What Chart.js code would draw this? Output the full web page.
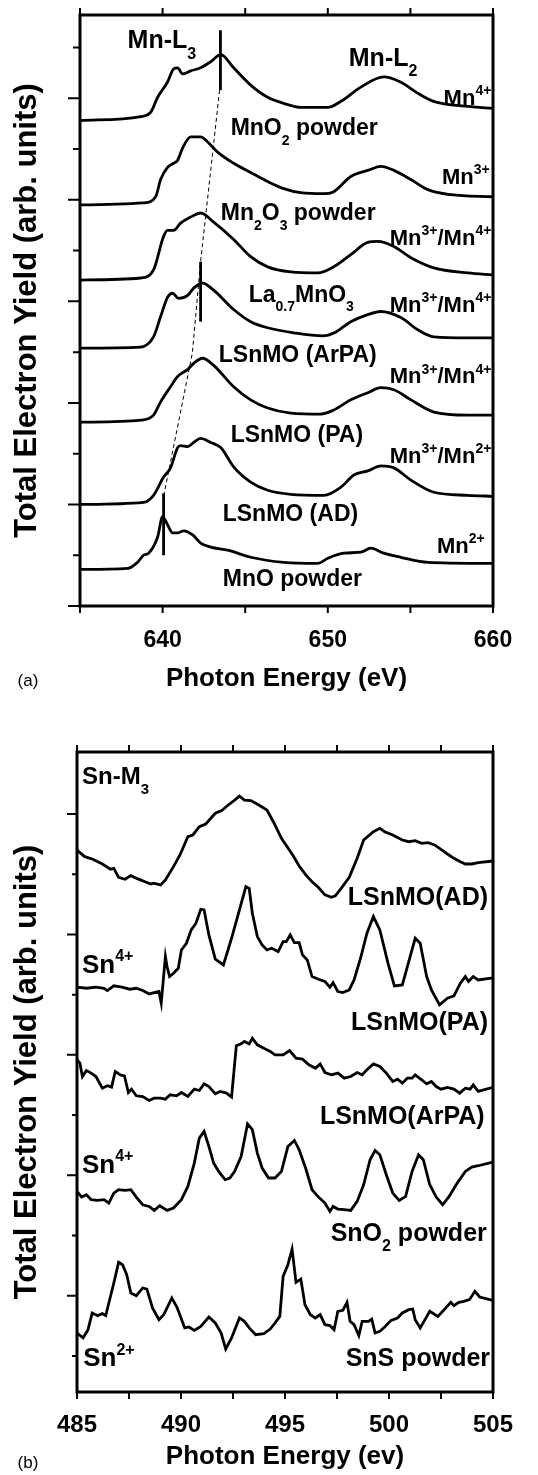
<!DOCTYPE html>
<html>
<head>
<meta charset="utf-8">
<script src="https://cdn.jsdelivr.net/npm/chart.js@4.4.1/dist/chart.umd.min.js"></script>
<style>
html, body { margin: 0; padding: 0; background: #fff; }
canvas { display: block; }
</style>
</head>
<body>
<canvas id="chartA" width="538" height="705"></canvas>
<canvas id="chartB" width="538" height="770"></canvas>
<script>
const FONT = "'Liberation Sans', Arial, sans-serif";

// ---- panel (a): Mn L-edge ----
const mno2X = [635, 638.67, 639.27, 639.70, 640.30, 640.67, 640.91, 641.21, 641.70, 642.30, 642.91, 643.52, 644.30, 645.33, 646.36, 647.33, 648.36, 650.0, 650.8, 652.0, 653.4, 654.4, 655.45, 656.4, 658.5, 660];
const mno2Y = [47.8, 48.2, 48.6, 50.1, 51.6, 52.9, 53.0, 52.4, 52.7, 53.0, 53.6, 54.3, 53.0, 51.3, 50.1, 49.5, 49.1, 49.1, 49.7, 51.1, 52.1, 51.6, 50.5, 49.7, 49.2, 49.0];

const mn2o3X = [635, 638.85, 639.58, 639.88, 640.30, 640.67, 640.91, 641.21, 641.70, 642.30, 642.73, 643.33, 644.30, 645.33, 646.36, 647.33, 648.36, 649.76, 650.36, 651.39, 652.0, 652.42, 653.21, 654.0, 655.03, 656.06, 657.45, 660];
const mn2o3Y = [39.5, 39.7, 40.3, 42.0, 43.2, 43.6, 43.9, 45.1, 46.2, 46.2, 45.7, 44.7, 43.6, 42.7, 41.8, 41.1, 40.7, 40.6, 40.8, 42.3, 42.7, 42.9, 43.3, 42.9, 42.0, 41.0, 40.5, 40.3];

const lamnoX = [635, 638.67, 639.45, 640.06, 640.30, 640.67, 641.09, 641.70, 642.30, 643.09, 644.30, 645.33, 646.36, 647.76, 649.39, 650.36, 651.39, 652.42, 653.03, 654.0, 655.03, 656.42, 658.48, 660];
const lamnoY = [32.1, 32.3, 33.1, 36.4, 37.0, 37.0, 37.7, 38.3, 38.7, 37.8, 36.1, 34.4, 33.4, 32.9, 32.8, 33.4, 34.6, 35.8, 35.9, 35.4, 34.3, 33.3, 32.8, 32.6];

const arpaX = [635, 638.67, 639.45, 639.88, 640.30, 640.61, 640.97, 641.52, 641.88, 642.42, 643.09, 644.30, 645.33, 646.36, 647.94, 649.7, 650.4, 651.39, 652.42, 653.21, 654.42, 655.45, 656.42, 658.48, 660];
const arpaY = [25.4, 25.5, 26.5, 28.5, 30.4, 30.8, 30.3, 30.6, 31.3, 31.8, 31.1, 29.2, 28.0, 27.4, 26.9, 26.6, 26.9, 28.0, 28.7, 29.0, 28.4, 27.2, 26.5, 26.4, 26.4];

const paX = [635, 638.67, 639.45, 639.88, 640.48, 640.91, 641.52, 641.88, 642.42, 643.09, 644.30, 645.33, 646.36, 647.76, 649.58, 650.36, 651.39, 652.42, 653.21, 654.0, 655.03, 656.42, 658.48, 660];
const paY = [18.1, 18.3, 18.8, 20.1, 21.6, 22.6, 23.3, 23.9, 24.4, 23.7, 21.6, 20.3, 19.5, 19.0, 18.9, 19.3, 20.3, 21.0, 21.5, 21.3, 20.3, 19.1, 18.8, 18.8];

const adX = [635, 638.85, 639.45, 640.06, 640.48, 640.91, 641.09, 641.52, 641.88, 642.30, 642.91, 643.52, 644.30, 645.33, 646.36, 647.76, 649.76, 650.79, 651.58, 652.42, 653.21, 654.0, 655.03, 656.42, 658.48, 660];
const adY = [10.0, 10.2, 10.9, 12.7, 13.6, 15.6, 15.8, 15.7, 16.1, 16.5, 16.1, 15.6, 13.7, 12.2, 11.4, 11.0, 10.9, 11.7, 12.9, 13.3, 13.8, 13.6, 12.4, 11.2, 10.9, 10.8];

const mnoX = [635, 637.88, 638.48, 638.85, 639.15, 639.70, 640.0, 640.30, 640.61, 640.91, 641.27, 641.82, 642.30, 642.91, 643.94, 645.33, 647.33, 649.39, 650.0, 650.97, 652.0, 652.61, 653.39, 654.42, 656.06, 660];
const mnoY = [3.6, 3.7, 4.3, 5.0, 5.2, 6.8, 8.8, 8.0, 7.2, 7.2, 7.4, 7.0, 6.2, 5.8, 5.5, 4.8, 4.3, 4.2, 4.7, 5.2, 5.3, 5.7, 5.2, 4.8, 4.3, 4.2];

// peak markers and the dashed guide
const barX = [643.5, 642.3, 640.06];
const barTop = [56.7, 33.9, 11.1];
const barBottom = [50.8, 28.0, 5.0];
const dashX = [643.45, 642.3, 641.8, 640.1];
const dashY = [50.8, 33.9, 24.9, 11.1];

const yTicksA = [0, 5, 10, 15, 20, 25, 30, 35, 40, 45, 50, 55];

// ---- panel (b): Sn M3-edge ----
const adBX = [485.0, 485.37, 485.76, 486.22, 486.61, 486.77, 487.00, 487.31, 487.59, 487.93, 488.27, 488.55, 488.67, 489.02, 489.25, 489.64, 489.95, 490.33, 490.57, 490.88, 491.19, 491.65, 491.96, 492.27, 492.58, 492.81, 493.05, 493.36, 493.74, 494.13, 494.44, 494.83, 495.37, 495.68, 496.00, 496.30, 496.61, 496.92, 497.23, 497.42, 497.70, 498.09, 498.47, 498.78, 499.25, 499.56, 499.79, 500.18, 500.64, 500.95, 501.26, 501.57, 501.88, 502.19, 502.50, 502.81, 503.12, 503.43, 503.67, 503.98, 504.29, 505.0];
const adBY = [37.0, 36.46, 36.24, 35.85, 35.41, 35.49, 34.74, 34.58, 34.88, 34.61, 34.38, 34.19, 34.25, 34.11, 34.52, 35.63, 36.60, 38.12, 38.26, 38.95, 39.17, 40.06, 40.28, 40.75, 41.16, 41.49, 41.16, 41.11, 40.75, 40.33, 39.36, 37.98, 36.60, 35.68, 34.94, 34.38, 33.89, 33.28, 33.08, 33.20, 33.83, 34.74, 36.32, 37.84, 38.53, 38.81, 38.53, 38.26, 37.84, 37.70, 37.79, 37.57, 37.62, 37.43, 37.07, 36.68, 36.32, 36.04, 35.85, 35.85, 35.96, 36.1];

const paBX = [485.0, 485.45, 485.91, 486.30, 486.46, 486.77, 487.16, 487.54, 487.85, 488.16, 488.47, 488.71, 488.94, 489.05, 489.25, 489.33, 489.45, 489.64, 489.87, 490.02, 490.26, 490.49, 490.72, 490.95, 491.11, 491.34, 491.65, 492.04, 492.43, 492.81, 493.12, 493.28, 493.43, 493.67, 493.90, 494.13, 494.36, 494.67, 494.91, 495.06, 495.25, 495.45, 495.68, 495.84, 496.07, 496.30, 496.61, 496.92, 497.16, 497.31, 497.54, 497.78, 498.09, 498.32, 498.63, 498.94, 499.25, 499.56, 499.95, 500.26, 500.64, 500.95, 501.26, 501.50, 501.81, 502.04, 502.43, 502.81, 503.12, 503.43, 503.67, 503.82, 504.05, 504.29, 505.0];
const paBY = [25.62, 25.53, 25.62, 25.53, 25.34, 25.73, 25.62, 25.45, 25.53, 25.34, 25.06, 25.17, 25.26, 24.29, 28.16, 27.33, 26.50, 26.78, 27.19, 28.71, 29.27, 30.37, 30.93, 32.09, 32.03, 29.96, 27.94, 27.47, 29.68, 32.03, 33.97, 33.83, 31.76, 29.82, 29.13, 28.71, 28.85, 28.58, 29.40, 29.40, 29.96, 29.32, 29.32, 28.30, 27.88, 26.50, 26.28, 26.09, 25.62, 26.00, 25.26, 25.17, 25.39, 26.22, 28.02, 30.10, 31.48, 30.37, 27.61, 25.73, 25.81, 27.75, 29.68, 29.27, 26.50, 25.39, 24.15, 24.70, 24.90, 25.95, 26.50, 26.09, 26.50, 26.22, 26.4];

const arpaBX = [485.0, 485.14, 485.26, 485.45, 485.68, 485.91, 486.22, 486.46, 486.66, 486.84, 487.08, 487.28, 487.47, 487.62, 487.85, 488.16, 488.47, 488.71, 489.02, 489.25, 489.48, 489.79, 490.02, 490.33, 490.64, 490.88, 491.11, 491.34, 491.65, 491.88, 492.19, 492.43, 492.66, 492.89, 493.05, 493.28, 493.43, 493.67, 493.98, 494.29, 494.52, 494.91, 495.22, 495.53, 495.84, 496.15, 496.46, 496.69, 496.92, 497.23, 497.54, 497.85, 498.16, 498.47, 498.71, 498.94, 499.25, 499.56, 499.87, 500.18, 500.41, 500.64, 500.88, 501.11, 501.26, 501.57, 501.81, 502.04, 502.27, 502.50, 502.81, 503.12, 503.40, 503.67, 503.90, 504.05, 504.29, 505.0];
const arpaBY = [19.59, 19.31, 18.20, 18.70, 18.48, 18.20, 17.23, 17.43, 17.32, 18.62, 18.34, 18.26, 16.87, 17.15, 16.60, 16.54, 16.21, 16.40, 16.40, 16.32, 16.68, 16.60, 16.87, 16.54, 17.15, 17.04, 17.59, 17.37, 16.76, 16.96, 16.82, 16.49, 20.75, 20.91, 21.11, 20.91, 21.38, 20.83, 20.55, 20.28, 20.00, 20.00, 20.36, 19.72, 19.64, 19.17, 18.89, 19.25, 18.53, 18.34, 18.48, 18.06, 18.20, 18.53, 18.34, 18.76, 19.25, 19.03, 18.48, 17.79, 17.98, 17.65, 18.06, 18.06, 18.34, 17.93, 17.59, 17.79, 17.37, 17.15, 17.29, 17.15, 16.82, 17.23, 17.15, 17.51, 16.96, 17.3];

const sno2BX = [485.0, 485.22, 485.45, 485.68, 485.99, 486.30, 486.53, 486.77, 487.00, 487.31, 487.59, 487.85, 488.16, 488.47, 488.71, 488.98, 489.33, 489.64, 490.02, 490.33, 490.64, 490.88, 491.11, 491.34, 491.57, 491.81, 492.12, 492.35, 492.58, 492.89, 493.20, 493.43, 493.67, 493.90, 494.21, 494.52, 494.83, 495.14, 495.45, 495.68, 495.99, 496.30, 496.61, 496.92, 497.16, 497.31, 497.54, 497.85, 498.16, 498.47, 498.78, 499.09, 499.33, 499.56, 499.87, 500.18, 500.49, 500.80, 501.11, 501.42, 501.65, 501.96, 502.27, 502.58, 502.89, 503.28, 503.67, 503.98, 504.29, 505.0];
const sno2BY = [8.66, 8.19, 8.38, 7.97, 7.91, 7.97, 7.69, 8.52, 8.80, 8.74, 8.80, 8.19, 7.55, 7.41, 7.08, 7.47, 7.08, 7.28, 7.97, 9.07, 11.01, 13.08, 13.64, 12.39, 11.01, 10.32, 9.63, 9.77, 10.32, 11.56, 14.27, 13.78, 11.84, 10.60, 9.77, 9.77, 10.32, 12.39, 12.89, 12.12, 10.60, 8.80, 8.19, 7.69, 7.00, 7.41, 7.19, 7.14, 7.08, 7.83, 9.21, 11.29, 12.06, 11.70, 10.04, 8.52, 7.91, 8.24, 10.32, 11.70, 11.29, 9.21, 8.19, 7.55, 8.24, 9.35, 10.32, 10.68, 10.79, 11.1];

const snsBX = [485.0, 485.29, 485.53, 485.73, 485.99, 486.22, 486.38, 486.53, 486.77, 487.00, 487.19, 487.39, 487.59, 487.85, 488.16, 488.36, 488.63, 488.94, 489.17, 489.56, 489.82, 490.18, 490.38, 490.64, 490.95, 491.34, 491.65, 491.93, 492.15, 492.43, 492.81, 493.05, 493.28, 493.59, 493.98, 494.29, 494.52, 494.75, 494.91, 495.14, 495.34, 495.53, 495.76, 495.96, 496.22, 496.46, 496.69, 496.92, 497.16, 497.36, 497.54, 497.78, 497.98, 498.13, 498.32, 498.55, 498.71, 499.02, 499.17, 499.33, 499.56, 499.79, 500.10, 500.41, 500.64, 500.95, 501.14, 501.26, 501.50, 501.73, 501.96, 502.35, 502.58, 502.97, 503.12, 503.36, 503.59, 503.87, 504.13, 504.36, 505.0];
const snsBY = [-3.10, -3.51, -2.82, -1.44, -1.66, -1.49, -1.66, -0.61, 1.05, 2.77, 2.57, 1.74, 0.22, 0, 0.64, 0.55, -1.02, -1.99, -1.58, -0.19, -1.02, -2.68, -2.60, -2.88, -2.55, -1.77, -2.27, -3.10, -4.43, -3.51, -1.85, -2.13, -2.68, -3.24, -3.15, -2.77, -2.27, -1.72, 1.60, 2.57, 3.87, 1.11, 1.38, -0.75, -1.58, -1.85, -1.58, -2.41, -2.49, -2.82, -1.30, -1.22, -0.55, -2.13, -2.41, -3.32, -2.13, -2.13, -1.94, -3.10, -2.96, -2.60, -2.05, -1.85, -1.44, -1.16, -1.11, -1.99, -2.68, -1.99, -1.30, -1.72, -1.30, -0.55, -0.83, -0.55, -0.47, -0.33, 0.36, -0.11, -0.4];

const yTicksB = [-5, 0, 5, 10, 15, 20, 25, 30, 35, 40];

// annotations, placed in data units
const notesA = [
    { t: 'Mn-L_{3}', x: 637.88, y: 55.8, size: 25, align: 'left' },
    { t: 'Mn-L_{2}', x: 651.27, y: 54.1, size: 25, align: 'left' },
    { t: 'Mn^{4+}', x: 659.9, y: 50.1, size: 22, align: 'right' },
    { t: 'MnO_{2} powder', x: 644.12, y: 47.2, size: 23, align: 'left' },
    { t: 'Mn^{3+}', x: 659.8, y: 42.3, size: 22, align: 'right' },
    { t: 'Mn_{2}O_{3} powder', x: 643.52, y: 38.8, size: 23, align: 'left' },
    { t: 'Mn^{3+}/Mn^{4+}', x: 659.9, y: 36.3, size: 22, align: 'right' },
    { t: 'La_{0.7}MnO_{3}', x: 645.21, y: 30.8, size: 23, align: 'left' },
    { t: 'Mn^{3+}/Mn^{4+}', x: 659.9, y: 29.7, size: 22, align: 'right' },
    { t: 'LSnMO (ArPA)', x: 643.4, y: 24.8, size: 23, align: 'left' },
    { t: 'Mn^{3+}/Mn^{4+}', x: 659.9, y: 22.7, size: 22, align: 'right' },
    { t: 'LSnMO (PA)', x: 644.12, y: 17.0, size: 23, align: 'left' },
    { t: 'Mn^{3+}/Mn^{2+}', x: 659.9, y: 14.9, size: 22, align: 'right' },
    { t: 'LSnMO (AD)', x: 643.64, y: 9.2, size: 23, align: 'left' },
    { t: 'Mn^{2+}', x: 659.5, y: 6.0, size: 22, align: 'right' },
    { t: 'MnO powder', x: 643.64, y: 2.8, size: 23, align: 'left' }
];
const notesB = [
    { t: 'Sn-M_{3}', x: 485.24, y: 43.2, size: 24, align: 'left' },
    { t: 'LSnMO(AD)', x: 504.76, y: 33.2, size: 25, align: 'right' },
    { t: 'Sn^{4+}', x: 485.24, y: 27.6, size: 26, align: 'left' },
    { t: 'LSnMO(PA)', x: 504.76, y: 22.8, size: 25, align: 'right' },
    { t: 'LSnMO(ArPA)', x: 504.6, y: 15.0, size: 25, align: 'right' },
    { t: 'Sn^{4+}', x: 485.24, y: 11.0, size: 26, align: 'left' },
    { t: 'SnO_{2} powder', x: 504.7, y: 5.3, size: 25, align: 'right' },
    { t: 'Sn^{2+}', x: 485.3, y: -5.1, size: 26, align: 'left' },
    { t: 'SnS powder', x: 504.86, y: -5.1, size: 25, align: 'right' }
];

function zip(xs, ys) {
    return xs.map((v, i) => ({ x: v, y: ys[i] }));
}

function curve(xs, ys, smooth) {
    return {
        data: zip(xs, ys),
        borderColor: '#000',
        borderWidth: 2.8,
        pointRadius: 0,
        fill: false,
        tension: smooth ? 0.4 : 0,
        cubicInterpolationMode: smooth ? 'monotone' : 'default'
    };
}

// text with ^{sup} and _{sub} parts, y is the cap centre
function drawRich(ctx, str, x, y, size, align) {
    const parts = [];
    str.split(/(\^\{[^}]*\}|_\{[^}]*\})/).forEach(p => {
        if (!p) return;
        if (p[0] === '^') parts.push({ t: p.slice(2, -1), k: 'sup' });
        else if (p[0] === '_') parts.push({ t: p.slice(2, -1), k: 'sub' });
        else parts.push({ t: p, k: 'n' });
    });
    const small = Math.round(size * 0.62);
    let w = 0;
    for (const p of parts) {
        ctx.font = `bold ${p.k === 'n' ? size : small}px ${FONT}`;
        p.w = ctx.measureText(p.t).width;
        w += p.w;
    }
    let cx = align === 'right' ? x - w : (align === 'center' ? x - w / 2 : x);
    const base = y + size * 0.36;
    ctx.textAlign = 'left';
    ctx.textBaseline = 'alphabetic';
    for (const p of parts) {
        ctx.font = `bold ${p.k === 'n' ? size : small}px ${FONT}`;
        const dy = p.k === 'sup' ? -size * 0.45 : (p.k === 'sub' ? size * 0.42 : 0);
        ctx.fillText(p.t, cx, base + dy);
        cx += p.w;
    }
}

function deco(notes, lens, tag) {
    return {
        id: 'deco',
        afterDatasetsDraw(chart) {
            const { ctx, chartArea: a, scales: { x, y } } = chart;
            ctx.save();
            ctx.strokeStyle = '#000';
            ctx.fillStyle = '#000';
            ctx.lineWidth = 2;
            ctx.beginPath();
            x.ticks.forEach(t => {
                const px = x.getPixelForValue(t.value);
                ctx.moveTo(px, a.top);
                ctx.lineTo(px, a.top - lens.x);
                ctx.moveTo(px, a.bottom);
                ctx.lineTo(px, a.bottom + lens.x);
            });
            y.ticks.forEach(t => {
                const py = y.getPixelForValue(t.value);
                const len = t.value % 10 === 0 ? lens.major : lens.minor;
                ctx.moveTo(a.left, py);
                ctx.lineTo(a.left - len, py);
            });
            ctx.stroke();
            ctx.lineWidth = 3;
            ctx.strokeRect(a.left, a.top, a.right - a.left, a.bottom - a.top);
            notes.forEach(n => drawRich(ctx, n.t, x.getPixelForValue(n.x), y.getPixelForValue(n.y), n.size, n.align));
            ctx.font = `17px ${FONT}`;
            ctx.textAlign = 'center';
            ctx.textBaseline = 'middle';
            ctx.fillText(tag.t, tag.x, tag.y);
            ctx.restore();
        }
    };
}

function baseOptions(o) {
    return {
        responsive: false,
        animation: false,
        devicePixelRatio: 1,
        layout: { padding: { left: 0, right: 45, top: o.top, bottom: 0 } },
        plugins: { legend: { display: false }, tooltip: { enabled: false } },
        scales: {
            x: {
                type: 'linear',
                min: o.xmin,
                max: o.xmax,
                grid: { display: false },
                border: { display: false },
                ticks: {
                    stepSize: o.xstep,
                    autoSkip: false,
                    maxRotation: 0,
                    padding: o.tickPad,
                    color: '#000',
                    font: { family: FONT, size: o.tickSize, weight: 'bold' },
                    callback: v => (v % o.labelEvery === 0 ? v : '')
                },
                title: {
                    display: true,
                    text: o.xtitle,
                    color: '#000',
                    font: { family: FONT, size: 26, weight: 'bold' },
                    padding: { top: 0, bottom: o.titlePad }
                },
                afterFit: s => { s.height = o.xh; }
            },
            y: {
                min: o.ymin,
                max: o.ymax,
                grid: { display: false },
                border: { display: false },
                ticks: { display: false },
                afterBuildTicks: s => { s.ticks = o.yticks.map(v => ({ value: v })); },
                title: {
                    display: true,
                    text: 'Total Electron Yield (arb. units)',
                    color: '#000',
                    font: { family: FONT, size: 31, weight: 'bold' },
                    padding: { top: 9, bottom: 0 }
                },
                afterFit: s => { s.width = o.yw; }
            }
        }
    };
}

const dsA = [
    curve(mno2X, mno2Y, true),
    curve(mn2o3X, mn2o3Y, true),
    curve(lamnoX, lamnoY, true),
    curve(arpaX, arpaY, true),
    curve(paX, paY, true),
    curve(adX, adY, true),
    curve(mnoX, mnoY, true)
];
barX.forEach((bx, i) => dsA.push(curve([bx, bx], [barBottom[i], barTop[i]], false)));
const guide = curve(dashX, dashY, false);
guide.borderWidth = 1;
guide.borderDash = [4, 3];
dsA.push(guide);

new Chart(document.getElementById('chartA'), {
    type: 'line',
    data: { datasets: dsA },
    options: baseOptions({
        top: 15, xmin: 635, xmax: 660, xstep: 5, labelEvery: 10, tickPad: 13, tickSize: 23,
        xtitle: 'Photon Energy (eV)', titlePad: 11, xh: 99, ymin: 0, ymax: 58.2, yticks: yTicksA, yw: 80
    }),
    plugins: [deco(notesA, { x: 7, major: 12, minor: 7 }, { t: '(a)', x: 28, y: 681 })]
});

new Chart(document.getElementById('chartB'), {
    type: 'line',
    data: {
        datasets: [
            curve(adBX, adBY, false),
            curve(paBX, paBY, false),
            curve(arpaBX, arpaBY, false),
            curve(sno2BX, sno2BY, false),
            curve(snsBX, snsBY, false)
        ]
    },
    options: baseOptions({
        top: 47, xmin: 485, xmax: 505, xstep: 2.5, labelEvery: 5, tickPad: 10.6, tickSize: 24,
        xtitle: 'Photon Energy (ev)', titlePad: 3, xh: 83, ymin: -8, ymax: 45.15, yticks: yTicksB, yw: 77
    }),
    plugins: [deco(notesB, { x: 7, major: 10, minor: 5 }, { t: '(b)', x: 28, y: 758 })]
});
</script>
</body>
</html>
